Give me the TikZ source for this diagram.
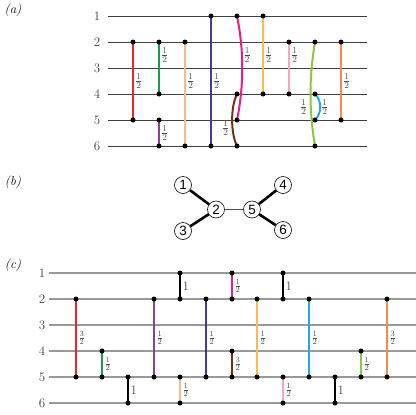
\documentclass[tikz,border=0pt]{standalone}
\usepackage{fontspec}
\newfontfamily\hvfont{Liberation Sans}
\definecolor{cred}{HTML}{E8262D}
\definecolor{cgreen}{HTML}{1E9A4B}
\definecolor{cpurple}{HTML}{8E3F97}
\definecolor{cpeach}{HTML}{F9BB8C}
\definecolor{cnavy}{HTML}{3C3F94}
\definecolor{cmagenta}{HTML}{E81C8C}
\definecolor{cbrown}{HTML}{6E3313}
\definecolor{cyellow}{HTML}{FDBB4C}
\definecolor{cpink}{HTML}{F4A6C6}
\definecolor{cyg}{HTML}{8DC63F}
\definecolor{ccyan}{HTML}{22AAE2}
\definecolor{corange}{HTML}{F58C4F}
\newcommand\myfa[2]{{\fontsize{13}{14}\selectfont$\frac{#1}{#2}$}}
\newcommand\myfc[2]{{\fontsize{11}{12}\selectfont$\frac{#1}{#2}$}}
\newcommand\myone{{\fontsize{13}{14}\selectfont 1}}
% vertical edge in panel (c): name, x, top row, bottom row, colour, label
\newcommand\myCedge[6]{%
  \pgfmathsetmacro\myyt{273+26*(#3-1)}%
  \pgfmathsetmacro\myyb{273+26*(#4-1)}%
  \coordinate (#1-t) at (#2,\myyt);
  \coordinate (#1-b) at (#2,\myyb);
  \draw[edgeline,draw=#5] (#1-t) -- (#1-b) node[midway,lab,anchor=west,xshift=0.5bp] (#1-l) {#6};
  \node[dot] at (#1-t) {};
  \node[dot] at (#1-b) {};
}
\begin{document}
\begin{tikzpicture}[x=1bp,y=-1bp,
  grida/.style={line width=0.9bp, black!75},
  gridc/.style={line width=1.2bp, black!40},
  edgeline/.style={line width=2bp},
  dot/.style={circle, fill=black, inner sep=0pt, minimum size=5bp},
  lab/.style={inner sep=1bp, text=black!70},
  rowlab/.style={font=\fontsize{13}{14}\selectfont, text=black!75},
  panel/.style={font=\fontsize{13}{14}\selectfont\itshape},
  gnode/.style={circle, draw=black, line width=0.6bp, fill=white, minimum size=17bp, inner sep=0pt, font=\hvfont\fontsize{13.5}{14}\selectfont},
  thickedge/.style={line width=2.6bp},
]
\useasboundingbox (0,0) rectangle (416,415);

% ---------- panel (a) ----------
\node[panel] (pa) at (13,10) {(a)};
\foreach \r in {1,...,6}{
  \node[rowlab] (ra\r) at (97,{16+26*(\r-1)}) {\r};
  \coordinate (ral\r) at (108,{16+26*(\r-1)});
  \coordinate (rar\r) at (367,{16+26*(\r-1)});
  \draw[grida] (ral\r) -- (rar\r);
}
% straight edges
\coordinate (a-red-t) at (133,42);   \coordinate (a-red-b) at (133,120);
\coordinate (a-green-t) at (159,42); \coordinate (a-green-b) at (159,94);
\coordinate (a-purple-t) at (159,120); \coordinate (a-purple-b) at (159,146);
\coordinate (a-peach-t) at (185,42); \coordinate (a-peach-b) at (185,146);
\coordinate (a-navy-t) at (211,16);  \coordinate (a-navy-b) at (211,146);
\coordinate (a-yellow-t) at (263,16); \coordinate (a-yellow-b) at (263,94);
\coordinate (a-pink-t) at (289,42);  \coordinate (a-pink-b) at (289,94);
\coordinate (a-orange-t) at (341,42); \coordinate (a-orange-b) at (341,120);
\draw[edgeline,draw=cred] (a-red-t) -- (a-red-b);
\draw[edgeline,draw=cgreen] (a-green-t) -- (a-green-b);
\draw[edgeline,draw=cpurple] (a-purple-t) -- (a-purple-b);
\draw[edgeline,draw=cpeach] (a-peach-t) -- (a-peach-b);
\draw[edgeline,draw=cnavy] (a-navy-t) -- (a-navy-b);
\draw[edgeline,draw=cyellow] (a-yellow-t) -- (a-yellow-b);
\draw[edgeline,draw=cpink] (a-pink-t) -- (a-pink-b);
\draw[edgeline,draw=corange] (a-orange-t) -- (a-orange-b);
% curved edges
\coordinate (a-mag-t) at (237,16);
\coordinate (a-mag-b) at (237,120);
\coordinate (a-brn-t) at (237,94);
\coordinate (a-brn-b) at (237,146);
\coordinate (a-yg-t) at (315,42);
\coordinate (a-yg-b) at (315,146);
\coordinate (a-cy-t) at (315,94);
\coordinate (a-cy-b) at (315,120);
\draw[edgeline,draw=cmagenta] (a-mag-t) .. controls (244,50) and (244,86) .. (a-mag-b);
\draw[edgeline,draw=cbrown] (a-brn-t) .. controls (230.5,107) and (230.5,133) .. (a-brn-b);
\draw[edgeline,draw=cyg] (a-yg-t) .. controls (309,78) and (309,110) .. (a-yg-b);
\draw[edgeline,draw=ccyan] (a-cy-t) .. controls (322,101) and (322,113) .. (a-cy-b);
% dots
\foreach \p in {a-red-t,a-red-b,a-green-t,a-green-b,a-purple-t,a-purple-b,a-peach-t,a-peach-b,
  a-navy-t,a-navy-b,a-yellow-t,a-yellow-b,a-pink-t,a-pink-b,a-orange-t,a-orange-b,
  a-mag-t,a-mag-b,a-brn-t,a-brn-b,a-yg-t,a-yg-b,a-cy-t,a-cy-b}{
  \node[dot] at (\p) {};
}
% labels
\node[lab,anchor=west] (la1) at (134,81) {\myfa12};
\node[lab,anchor=west] (la2) at (160,55) {\myfa12};
\node[lab,anchor=west] (la3) at (160,133) {\myfa12};
\node[lab,anchor=west] (la4) at (186,81) {\myfa12};
\node[lab,anchor=west] (la5) at (212,81) {\myfa12};
\node[lab,anchor=west] (la6) at (242.5,55) {\myfa12};
\node[lab,anchor=east] (la7) at (230.5,128) {\myfa12};
\node[lab,anchor=west] (la8) at (264,55) {\myfa12};
\node[lab,anchor=west] (la9) at (290,55) {\myfa12};
\node[lab,anchor=east] (la10) at (308.5,107) {\myfa12};
\node[lab,anchor=west] (la11) at (320,107) {\myfa12};
\node[lab,anchor=west] (la12) at (342,81) {\myfa12};

% ---------- panel (b) ----------
\node[panel] (pb) at (13,182) {(b)};
\node[gnode] (n1) at (183,185) {1};
\node[gnode] (n2) at (216,209.5) {2};
\node[gnode] (n3) at (183,231) {3};
\node[gnode] (n5) at (252,209.5) {5};
\node[gnode] (n4) at (283,185) {4};
\node[gnode] (n6) at (283,230) {6};
\draw[thickedge] (n1) -- (n2);
\draw[thickedge] (n3) -- (n2);
\draw[thickedge] (n4) -- (n5);
\draw[thickedge] (n6) -- (n5);
\draw[draw=red, line width=1bp] (n2) -- (n5);

% ---------- panel (c) ----------
\node[panel] (pc) at (13,265) {(c)};
\foreach \r in {1,...,6}{
  \node[rowlab] (rc\r) at (42,{273+26*(\r-1)}) {\r};
  \coordinate (rcl\r) at (49,{273+26*(\r-1)});
  \coordinate (rcr\r) at (416,{273+26*(\r-1)});
  \draw[gridc] (rcl\r) -- (rcr\r);
}
\myCedge{c1}{76}{2}{5}{cred}{\myfc32}
\myCedge{c2}{102}{4}{5}{cgreen}{\myfc12}
\myCedge{c3}{128}{5}{6}{black}{\myone}
\myCedge{c4}{154}{2}{5}{cpurple}{\myfc12}
\myCedge{c5}{180}{1}{2}{black}{\myone}
\myCedge{c6}{180}{5}{6}{cpeach}{\myfc12}
\myCedge{c7}{206}{2}{5}{cnavy}{\myfc12}
\myCedge{c8}{232}{1}{2}{cmagenta}{\myfc12}
\myCedge{c9}{232}{4}{5}{cbrown}{\myfc32}
\myCedge{c10}{257}{2}{5}{cyellow}{\myfc12}
\myCedge{c11}{283}{1}{2}{black}{\myone}
\myCedge{c12}{283}{5}{6}{cpink}{\myfc12}
\myCedge{c13}{309}{2}{5}{ccyan}{\myfc12}
\myCedge{c14}{335}{5}{6}{black}{\myone}
\myCedge{c15}{361}{4}{5}{cyg}{\myfc12}
\myCedge{c16}{387}{2}{5}{corange}{\myfc32}
\end{tikzpicture}
\end{document}
